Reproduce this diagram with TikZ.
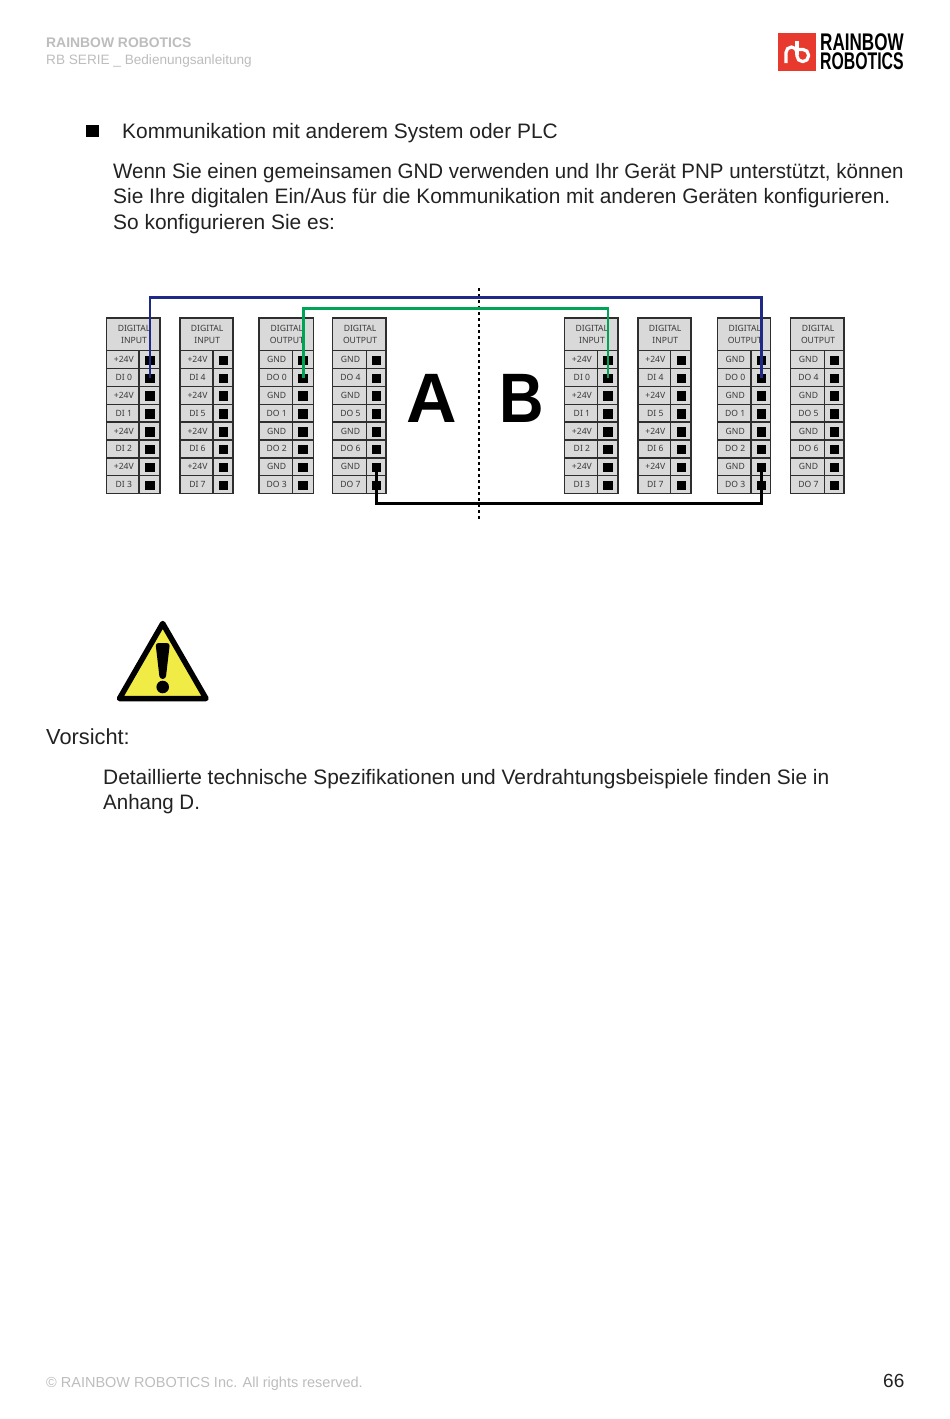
\documentclass[tikz,border=0pt]{standalone}
\usepackage{fontspec}
\usepackage{graphicx}
\setmainfont{Liberation Sans}
\newfontfamily\tablefont{Noto Sans}
\usetikzlibrary{calc}
\definecolor{cellgrey}{HTML}{D9D9D9}
\definecolor{cellline}{HTML}{2E2E2E}
\definecolor{celltext}{HTML}{3A3A3A}
\definecolor{headgrey}{HTML}{BDBDBD}
\definecolor{wireblue}{HTML}{1F2A86}
\definecolor{wiregreen}{HTML}{00A455}
\definecolor{logored}{HTML}{E8392F}
\definecolor{warnyellow}{HTML}{F1EC45}
\definecolor{bodytext}{HTML}{222222}
\tikzset{
  cell/.style={draw=cellline,fill=cellgrey,line width=1.4pt,inner sep=0pt,outer sep=0pt,
    text=celltext,font=\tablefont\fontsize{8.6}{10.6}\selectfont,align=center},
  terminal/.style={fill=black,minimum size=9.5pt,inner sep=0pt,outer sep=0pt},
  wire/.style={line width=2.7pt,line join=miter},
  body/.style={anchor=base west,inner sep=0pt,align=left,text=bodytext,font=\fontsize{20.9}{25.4}\selectfont},
  greyhead/.style={anchor=base west,inner sep=0pt,text=headgrey},
  bigletter/.style={anchor=base west,inner sep=0pt,font=\fontsize{70}{70}\selectfont\bfseries},
  logotext/.style={anchor=base west,inner sep=0pt,text=black},
}
% name, left, divider, right, header word, labels
\newcommand{\tblock}[6]{%
  \pgfmathsetmacro{\tbwl}{#3-#2}\pgfmathsetmacro{\tbwr}{#4-#3}\pgfmathsetmacro{\tbwa}{#4-#2}
  \pgfmathsetmacro{\tbcl}{(#2+#3)/2}\pgfmathsetmacro{\tbcr}{(#3+#4)/2}\pgfmathsetmacro{\tbca}{(#2+#4)/2}
  \node[cell,minimum width=\tbwa pt,minimum height=32.7pt] (#1-head) at (\tbca,334.3) {\hspace*{1.4pt}DIGITAL\\[1.9pt]\hspace*{1.4pt}#5};
  \foreach \lab [count=\i] in {#6}{
    \pgfmathsetmacro{\yc}{350.7+(\i-0.5)*17.85}
    \node[cell,minimum width=\tbwl pt,minimum height=17.85pt] (#1-l\i) at (\tbcl,\yc) {\hspace*{2pt}\raisebox{-1pt}{\lab}};
    \node[cell,minimum width=\tbwr pt,minimum height=17.85pt] (#1-c\i) at (\tbcr,\yc) {};
    \node[terminal] (#1-\i) at ($(\tbcr,\yc)+(0.4,0.8)$) {};
  }
}
\begin{document}
\begin{tikzpicture}[x=1pt,y=-1pt]
\useasboundingbox (0,0) rectangle (950,1419);
\fill[white] (0,0) rectangle (950,1419);
% page header
\node[greyhead,font=\fontsize{13.9}{16}\selectfont\bfseries] (h1) at (46,47) {RAINBOW ROBOTICS};
\node[greyhead,font=\fontsize{13.6}{16}\selectfont] (h2) at (46,64.5) {RB SERIE \_ Bedienungsanleitung};
% logo
\fill[logored] (778.3,32.7) rectangle (815.7,71);
\draw[white,line width=3.2pt,rounded corners=5.5pt] (786,63) -- (786,47) -- (797,47) -- (797,61.5) -- (808.5,61.5) -- (808.5,49.5) -- (797,49.5);
\draw[white,line width=3.2pt] (797,55) -- (797,41);
\node[logotext] (l1) at (820,50.2) {\resizebox{83.5pt}{16.8pt}{\bfseries RAINBOW}};
\node[logotext] (l2) at (820,69.8) {\resizebox{83.5pt}{16.8pt}{\bfseries ROBOTICS}};
% text
\fill[black] (86,125) rectangle (98.5,137);
\node[body] (t0) at (122,138.5) {Kommunikation mit anderem System oder PLC};
\node[body,anchor=north west] (t1) at (113,163) {\scalebox{0.981}[1]{Wenn Sie einen gemeinsamen GND verwenden und Ihr Gerät PNP unterstützt, können}\\Sie Ihre digitalen Ein/Aus für die Kommunikation mit anderen Geräten konfigurieren.\\So konfigurieren Sie es:};
% blocks
\tblock{a1}{106.7}{139}{160}{INPUT}{+24V,DI 0,+24V,DI 1,+24V,DI 2,+24V,DI 3}
\tblock{a2}{180}{213}{233}{INPUT}{+24V,DI 4,+24V,DI 5,+24V,DI 6,+24V,DI 7}
\tblock{a3}{259}{292.3}{313.3}{OUTPUT}{GND,DO 0,GND,DO 1,GND,DO 2,GND,DO 3}
\tblock{a4}{332.7}{366.3}{386}{OUTPUT}{GND,DO 4,GND,DO 5,GND,DO 6,GND,DO 7}
\tblock{b1}{564.5}{597.3}{618}{INPUT}{+24V,DI 0,+24V,DI 1,+24V,DI 2,+24V,DI 3}
\tblock{b2}{638}{670.7}{691}{INPUT}{+24V,DI 4,+24V,DI 5,+24V,DI 6,+24V,DI 7}
\tblock{b3}{717.5}{751}{770.7}{OUTPUT}{GND,DO 0,GND,DO 1,GND,DO 2,GND,DO 3}
\tblock{b4}{790.7}{824.3}{844}{OUTPUT}{GND,DO 4,GND,DO 5,GND,DO 6,GND,DO 7}
\node[bigletter] (A) at (406.5,422) {A};
\node[bigletter] (B) at (499.5,422) {\scalebox{0.88}[1]{B}};
\coordinate (dtop) at (479,288);
\coordinate (dbot) at (479,519);
\draw[line width=1.1pt,dash pattern=on 3pt off 3pt] (dtop) -- (dbot);
% wires
\draw[wire,wireblue] (a1-2.center) -- (a1-2.center |- 0,297.3) -- (b3-2.center |- 0,297.3) -- (b3-2.center);
\draw[wire,wiregreen] (a3-2.center) -- (a3-2.center |- 0,308.3) -- (b1-2.center |- 0,308.3) -- (b1-2.center);
\draw[wire,black] (a4-7.center) -- (a4-7.center |- 0,503.3) -- (b3-7.center |- 0,503.3) -- (b3-7.center);
% warning sign
\draw[black,fill=warnyellow,line width=5.5pt,line join=round] (162.7,623.5) -- (206,698.5) -- (119.5,698.5) -- cycle;
\fill[black,rounded corners=3pt] (155.5,643) -- (169.9,643) -- (165.7,679) -- (159.7,679) -- cycle;
\fill[black] (162.7,687) circle[radius=6.3];
% caution
\node[body,font=\fontsize{21.8}{25.4}\selectfont] (v) at (46,744.5) {Vorsicht:};
\node[body,anchor=north west,font=\fontsize{20.9}{25}\selectfont] (d) at (103,769.5) {Detaillierte technische Spezifikationen und Verdrahtungsbeispiele finden Sie in\\\scalebox{0.98}[1]{Anhang D.}};
% footer
\node[greyhead,font=\fontsize{14.5}{16}\selectfont] (f) at (46,1387.5) {© RAINBOW ROBOTICS Inc. All rights reserved.};
\node[anchor=base west,inner sep=0pt,text=bodytext,font=\fontsize{19}{22}\selectfont] (p) at (883,1387.5) {66};
\end{tikzpicture}
\end{document}
